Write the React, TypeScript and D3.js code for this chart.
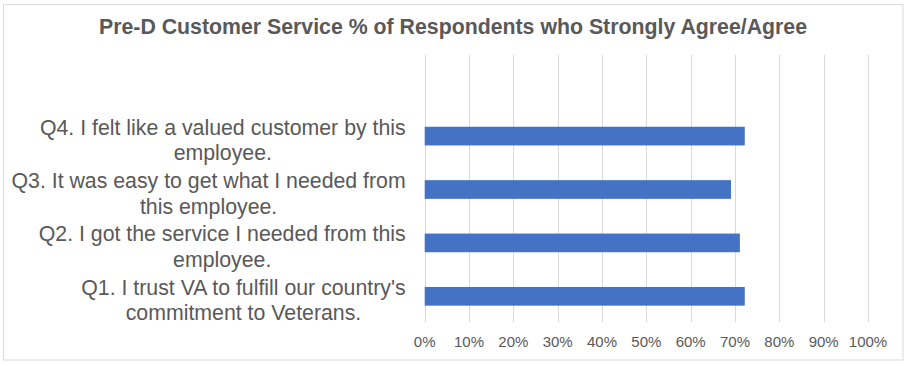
import React, { useEffect, useRef } from 'react';
import * as d3 from 'd3';

// chart data (top to bottom, first row is the blank category Excel left in)
const categories = [
  '',
  'Q4. I felt like a valued customer by this employee.',
  'Q3. It was easy to get what I needed from this employee.',
  'Q2. I got the service I needed from this employee.',
  "Q1. I trust VA to fulfill our country's commitment to Veterans.",
];
const values: (number | null)[] = [null, 0.722, 0.691, 0.711, 0.722];
const tickValues = [0, 0.1, 0.2, 0.3, 0.4, 0.5, 0.6, 0.7, 0.8, 0.9, 1];
const title = 'Pre-D Customer Service % of Respondents who Strongly Agree/Agree';

const WIDTH = 910;
const HEIGHT = 366;
const FONT = '"Liberation Sans", Arial, sans-serif';
const TEXT_COLOR = '#595959';
const GRID_COLOR = '#d9d9d9';
const BAR_COLOR = '#4472c4';

export default function App() {
  const ref = useRef<SVGSVGElement>(null);

  useEffect(() => {
    const svg = d3.select(ref.current);
    svg.selectAll('*').remove();

    // outer chart border
    svg.append('rect')
      .attr('x', 3.5)
      .attr('y', 4.5)
      .attr('width', 899.5)
      .attr('height', 355.5)
      .attr('fill', '#fff')
      .attr('stroke', GRID_COLOR)
      .attr('stroke-width', 1);

    svg.append('text')
      .attr('x', 453)
      .attr('y', 33.5)
      .attr('text-anchor', 'middle')
      .style('font-family', FONT)
      .style('font-size', '21.3px')
      .style('font-weight', 'bold')
      .style('fill', TEXT_COLOR)
      .text(title);

    const x = d3.scaleLinear().domain([0, 1]).range([424.7, 868]);
    const y = d3.scaleBand<string>()
      .domain(categories.map((c, i) => String(i)))
      .range([56, 323])
      .paddingInner(0.65)
      .paddingOuter(0.325);

    // gridlines
    svg.append('g')
      .selectAll('line')
      .data(tickValues)
      .enter()
      .append('line')
      .attr('x1', d => Math.round(x(d)) + 0.5)
      .attr('x2', d => Math.round(x(d)) + 0.5)
      .attr('y1', 55)
      .attr('y2', 322)
      .attr('stroke', GRID_COLOR)
      .attr('stroke-width', 1);

    // tick labels
    svg.append('g')
      .selectAll('text')
      .data(tickValues)
      .enter()
      .append('text')
      .attr('x', d => x(d))
      .attr('y', 347)
      .attr('text-anchor', 'middle')
      .style('font-family', FONT)
      .style('font-size', '15px')
      .style('fill', TEXT_COLOR)
      .text(d => d3.format('.0%')(d));

    // bars
    svg.append('g')
      .selectAll('rect')
      .data(values.map((v, i) => ({ v, i })).filter(d => d.v !== null))
      .enter()
      .append('rect')
      .attr('x', x(0))
      .attr('y', d => y(String(d.i))!)
      .attr('width', d => x(d.v as number) - x(0))
      .attr('height', y.bandwidth())
      .attr('fill', BAR_COLOR);

    // wrapped category labels
    const fontSize = 21.3;
    const lineHeight = 25.6;
    const maxWidth = 398;
    const right = 405.7;
    const measure = svg.append('text')
      .style('font-family', FONT)
      .style('font-size', fontSize + 'px');
    const textWidth = (s: string) => {
      measure.text(s);
      return (measure.node() as SVGTextElement).getComputedTextLength();
    };

    const labels = svg.append('g');
    categories.forEach((cat, i) => {
      if (!cat) return;
      const words = cat.split(' ');
      const lines: string[] = [];
      let cur = '';
      words.forEach(w => {
        const test = cur ? cur + ' ' + w : w;
        if (cur && textWidth(test) > maxWidth) {
          lines.push(cur);
          cur = w;
        } else {
          cur = test;
        }
      });
      if (cur) lines.push(cur);
      const blockWidth = d3.max(lines, l => textWidth(l)) as number;
      const cx = right - blockWidth / 2;
      const center = (y(String(i)) as number) + y.bandwidth() / 2;
      const base = center - ((lines.length - 1) * lineHeight) / 2 + 11.3;
      lines.forEach((l, j) => {
        labels.append('text')
          .attr('x', cx)
          .attr('y', base + j * lineHeight)
          .attr('text-anchor', 'middle')
          .style('font-family', FONT)
          .style('font-size', fontSize + 'px')
          .style('fill', TEXT_COLOR)
          .text(l);
      });
    });
    measure.remove();
  }, []);

  return (
    <svg
      ref={ref}
      width={WIDTH}
      height={HEIGHT}
      style={{ position: 'absolute', left: 0, top: 0, display: 'block' }}
    />
  );
}
